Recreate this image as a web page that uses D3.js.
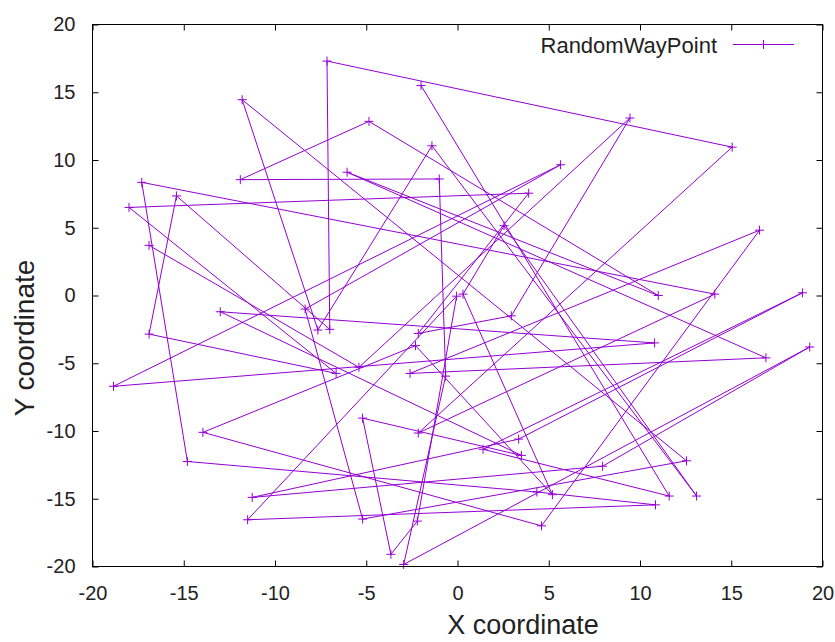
<!DOCTYPE html>
<html>
<head>
<meta charset="utf-8">
<script src="https://cdn.jsdelivr.net/npm/d3@7"></script>
<style>
  html, body { margin: 0; padding: 0; background: #ffffff; }
  text { font-family: "Liberation Sans", Arial, sans-serif; fill: #222; }
</style>
</head>
<body>
<svg id="chart" width="835" height="642"></svg>
<script>
// Tick values for both axes
const xTicks = [-20, -15, -10, -5, 0, 5, 10, 15, 20];
const yTicks = [-20, -15, -10, -5, 0, 5, 10, 15, 20];

// Waypoints of the random-waypoint trace, in visiting order
const waypointX = [
  -2.0, 11.6, 1.4, 18.9, 3.35, -11.25, 7.95, 19.3, -2.95, -0.65,
  -1.0, -11.9, -4.85, 11.0, -6.05, 16.9, -2.6, 16.55, 4.6, -13.95,
  -2.3, 5.2, 0.3, 2.55, 13.1, -1.4, -7.65, -11.8, 12.55, -5.2,
  -8.35, 5.65, -18.85, 10.8, -13.0, 3.5, -5.2, -3.65, -2.2, -0.05,
  -11.5, 10.85, 4.35, -14.8, -17.3, 14.1, -2.15, 15.05, -7.15, -7.0,
  -15.4, -16.9, -6.65, -18.0, 3.9, -2.15, 2.95, 9.45, -5.4, -16.9
];
const waypointY = [
  15.5, -14.8, -11.35, 0.2, -10.6, -14.9, -12.6, -3.8, -19.85, -5.95,
  8.6, 8.55, 12.85, 0.0, 9.1, -4.6, -5.75, 4.82, -17.0, -10.1,
  -3.7, -14.7, 0.1, 5.15, -14.8, 11.05, -2.55, 14.45, -12.2, -16.5,
  -1.0, 9.65, -6.7, -3.5, -1.2, -11.8, -9.05, -19.1, -16.65, -0.05,
  -16.55, -15.45, -14.5, -12.25, 8.35, 0.1, -10.15, 10.95, 17.3, -2.5,
  7.35, -2.85, -5.75, 6.5, 7.55, -2.8, -1.5, 13.1, -5.3, 3.7
];

const seriesName = "RandomWayPoint";
const xTitle = "X coordinate";
const yTitle = "Y coordinate";
const lineColor = "#9400d3";

const points = waypointX.map((x, i) => ({ x, y: waypointY[i] }));

const svg = d3.select("#chart");
const plot = { left: 92.5, right: 822.5, top: 24.5, bottom: 566.5 };

const x = d3.scaleLinear().domain([-20, 20]).range([plot.left, plot.right]);
const y = d3.scaleLinear().domain([-20, 20]).range([plot.bottom, plot.top]);

const tickLen = 6;
const plainNumber = d => String(d);   // ASCII hyphen for negatives

// Axes: labelled bottom/left, mirrored ticks on top/right, all pointing inward
const axisBottom = d3.axisBottom(x).tickValues(xTicks).tickSize(-tickLen).tickPadding(19).tickFormat(plainNumber);
const axisTop = d3.axisTop(x).tickValues(xTicks).tickSize(-tickLen).tickFormat("");
const axisLeft = d3.axisLeft(y).tickValues(yTicks).tickSize(-tickLen).tickPadding(17).tickFormat(plainNumber);
const axisRight = d3.axisRight(y).tickValues(yTicks).tickSize(-tickLen).tickFormat("");

function styleAxis(g) {
  g.select(".domain").remove();
  g.selectAll(".tick line").attr("stroke", "#000").attr("stroke-width", 1);
  g.selectAll(".tick text")
    .attr("fill", "#222")
    .style("font-family", '"Liberation Sans", Arial, sans-serif')
    .style("font-size", "20px");
}

svg.append("g").attr("transform", `translate(0,${plot.bottom})`).call(axisBottom).call(styleAxis);
svg.append("g").attr("transform", `translate(0,${plot.top})`).call(axisTop).call(styleAxis);
svg.append("g").attr("transform", `translate(${plot.left},0)`).call(axisLeft).call(styleAxis);
svg.append("g").attr("transform", `translate(${plot.right},0)`).call(axisRight).call(styleAxis);

// Trace line
const line = d3.line().x(d => x(d.x)).y(d => y(d.y));
svg.append("path")
  .datum(points)
  .attr("d", line)
  .attr("fill", "none")
  .attr("stroke", lineColor)
  .attr("stroke-width", 1);

// Plus markers at each waypoint
const m = 4.5;
const markers = svg.append("g").attr("stroke", lineColor).attr("stroke-width", 1);
markers.selectAll("path.pt")
  .data(points)
  .join("path")
  .attr("class", "pt")
  .attr("d", d => {
    const px = x(d.x), py = y(d.y);
    return `M${px - m},${py}H${px + m}M${px},${py - m}V${py + m}`;
  });

// Frame
svg.append("rect")
  .attr("x", plot.left).attr("y", plot.top)
  .attr("width", plot.right - plot.left).attr("height", plot.bottom - plot.top)
  .attr("fill", "none").attr("stroke", "#000").attr("stroke-width", 1);

// Legend
const legend = svg.append("g");
legend.append("text")
  .attr("x", 717).attr("y", 52.5)
  .attr("text-anchor", "end")
  .style("font-size", "22px")
  .text(seriesName);
legend.append("line")
  .attr("x1", 733).attr("x2", 794).attr("y1", 44.5).attr("y2", 44.5)
  .attr("stroke", lineColor).attr("stroke-width", 1);
legend.append("path")
  .attr("d", `M${763.5 - m},44.5H${763.5 + m}M763.5,${44.5 - m}V${44.5 + m}`)
  .attr("stroke", lineColor).attr("stroke-width", 1);

// Axis titles
svg.append("text")
  .attr("x", 523).attr("y", 634)
  .attr("text-anchor", "middle")
  .style("font-size", "27px")
  .text(xTitle);
svg.append("text")
  .attr("transform", "translate(34,338) rotate(-90)")
  .attr("text-anchor", "middle")
  .style("font-size", "28px")
  .text(yTitle);
</script>
</body>
</html>
